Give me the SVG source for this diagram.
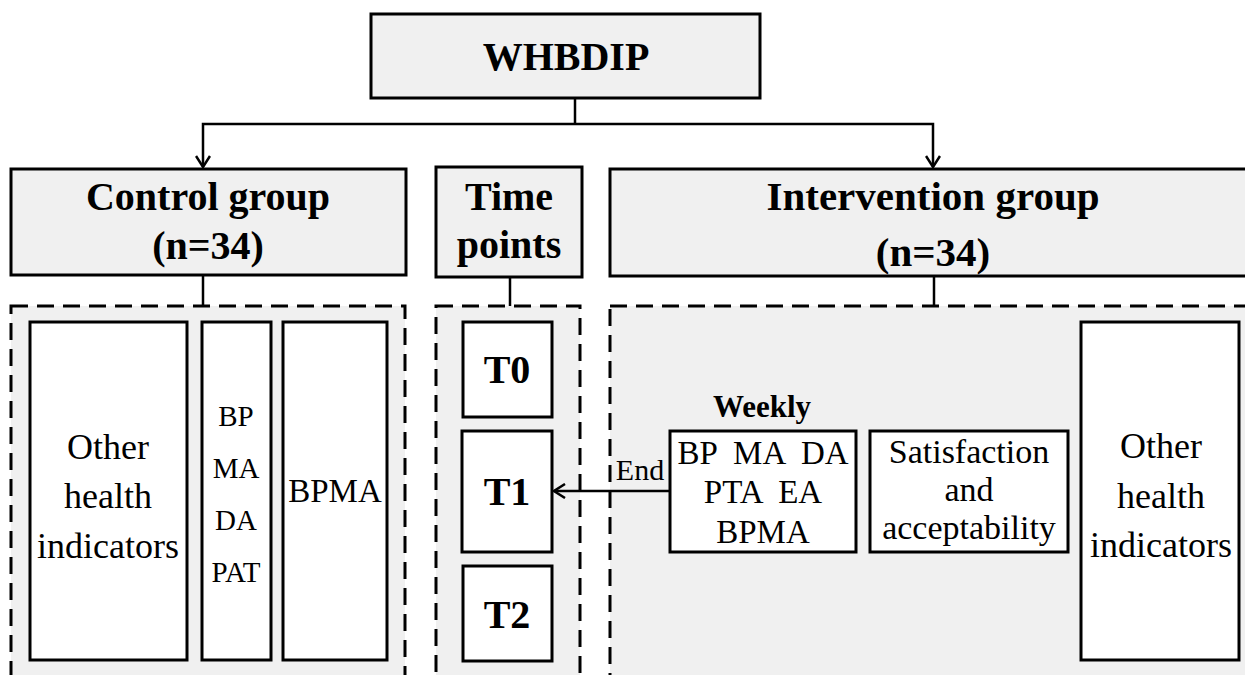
<svg xmlns="http://www.w3.org/2000/svg" width="1245" height="675" viewBox="0 0 1245 675">
<defs>
<marker id="arr" markerWidth="14" markerHeight="16" refX="12" refY="8" orient="auto" markerUnits="userSpaceOnUse">
<path d="M1,1 L12,8 L1,15" fill="none" stroke="#000" stroke-width="2.5"/>
</marker>
<style>
.gbox{fill:#f0f0f0;stroke:#000;stroke-width:3}
.ibox{fill:#fff;stroke:#000;stroke-width:3}
.dash{fill:#f0f0f0;stroke:#000;stroke-width:3;stroke-dasharray:17 9}
.conn{fill:none;stroke:#000;stroke-width:2.5}
.b{font-family:"Liberation Serif","Times New Roman",serif;font-weight:bold;text-anchor:middle;fill:#000}
.r{font-family:"Liberation Serif","Times New Roman",serif;text-anchor:middle;fill:#000}
</style>
</defs>
<rect width="1245" height="675" fill="#fff"/>

<g id="containers">
<rect id="control-container" class="dash" x="11" y="306" width="394" height="390"/>
<rect id="time-container" class="dash" x="436" y="306" width="144" height="390"/>
<rect id="intervention-container" class="dash" x="610" y="306" width="660" height="390"/>
</g>

<g id="connectors">
<polyline class="conn" points="575,98 575,124"/>
<polyline class="conn" points="575,124 203,124 203,167" marker-end="url(#arr)"/>
<polyline class="conn" points="575,124 933,124 933,167" marker-end="url(#arr)"/>
<line class="conn" x1="203" y1="275" x2="203" y2="306"/>
<line class="conn" x1="510" y1="277" x2="510" y2="306"/>
<line class="conn" x1="934" y1="276" x2="934" y2="306"/>
<line class="conn" x1="670" y1="491" x2="554" y2="491" marker-end="url(#arr)"/>
<text class="r" x="640" y="480" font-size="30">End</text>
</g>

<g id="whbdip">
<rect class="gbox" x="371" y="14" width="389" height="84"/>
<text class="b" x="566" y="70" font-size="40">WHBDIP</text>
</g>

<g id="control-group">
<rect class="gbox" x="11" y="169" width="395" height="106"/>
<text class="b" x="208" y="210" font-size="40">Control group</text>
<text class="b" x="208" y="259" font-size="40">(n=34)</text>
</g>

<g id="time-points">
<rect class="gbox" x="436" y="167" width="146" height="110"/>
<text class="b" x="509" y="210" font-size="40">Time</text>
<text class="b" x="509" y="258" font-size="40">points</text>
</g>

<g id="intervention-group">
<rect class="gbox" x="610" y="169" width="660" height="107"/>
<text class="b" x="933" y="210" font-size="41">Intervention group</text>
<text class="b" x="933" y="266" font-size="41">(n=34)</text>
</g>

<g id="control-other">
<rect class="ibox" x="30" y="322" width="157" height="338"/>
<text class="r" x="108" y="459" font-size="36">Other</text>
<text class="r" x="108" y="508" font-size="36">health</text>
<text class="r" x="108" y="558" font-size="36">indicators</text>
</g>

<g id="control-measures">
<rect class="ibox" x="202" y="322" width="69" height="338"/>
<text class="r" x="236" y="426" font-size="29">BP</text>
<text class="r" x="236" y="478" font-size="29">MA</text>
<text class="r" x="236" y="530" font-size="29">DA</text>
<text class="r" x="236" y="582" font-size="29">PAT</text>
</g>

<g id="control-bpma">
<rect class="ibox" x="283" y="322" width="104" height="338"/>
<text class="r" x="335" y="502" font-size="33">BPMA</text>
</g>

<g id="t0">
<rect class="ibox" x="463" y="322" width="89" height="95"/>
<text class="b" x="507" y="383" font-size="40">T0</text>
</g>
<g id="t1">
<rect class="ibox" x="462" y="431" width="90" height="121"/>
<text class="b" x="507" y="505" font-size="40">T1</text>
</g>
<g id="t2">
<rect class="ibox" x="463" y="566" width="89" height="95"/>
<text class="b" x="507" y="628" font-size="40">T2</text>
</g>

<g id="weekly">
<text class="b" x="762" y="417" font-size="31">Weekly</text>
<rect class="ibox" x="670" y="431" width="186" height="121"/>
<text class="r" x="763" y="464" font-size="33" xml:space="preserve">BP  MA  DA</text>
<text class="r" x="763" y="503" font-size="33" xml:space="preserve">PTA  EA</text>
<text class="r" x="763" y="543" font-size="33">BPMA</text>
</g>

<g id="satisfaction">
<rect class="ibox" x="870" y="431" width="198" height="121"/>
<text class="r" x="969" y="463" font-size="34">Satisfaction</text>
<text class="r" x="969" y="501" font-size="34">and</text>
<text class="r" x="969" y="539" font-size="34">acceptability</text>
</g>

<g id="intervention-other">
<rect class="ibox" x="1081" y="322" width="158" height="338"/>
<text class="r" x="1161" y="458" font-size="36">Other</text>
<text class="r" x="1161" y="508" font-size="36">health</text>
<text class="r" x="1161" y="557" font-size="36">indicators</text>
</g>
</svg>
